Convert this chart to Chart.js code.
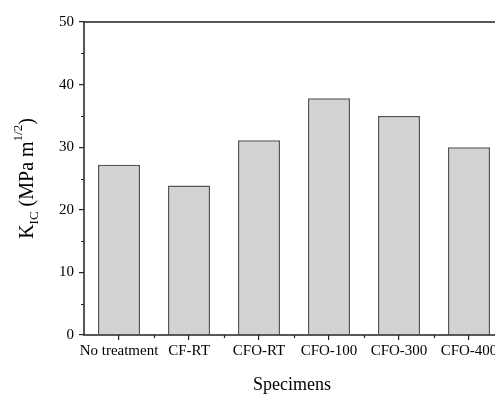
<!DOCTYPE html>
<html>
<head>
<meta charset="utf-8">
<script src="https://cdn.jsdelivr.net/npm/chart.js@4/dist/chart.umd.min.js"></script>
<style>
  html, body { margin: 0; padding: 0; background: #fff; overflow: hidden; }
  #wrap { position: relative; width: 520px; height: 395px; }
</style>
</head>
<body>
<div id="wrap"><canvas id="chart"></canvas></div>
<script>
// Fracture toughness per specimen treatment
const specimens = ['No treatment', 'CF-RT', 'CFO-RT', 'CFO-100', 'CFO-300', 'CFO-400'];
const kicValues = [27.2, 23.9, 31.1, 37.8, 35.0, 30.0];
const yMajorTicks = [0, 10, 20, 30, 40, 50];
const yMinorTicks = [5, 15, 25, 35, 45];

const SERIF = '"Liberation Serif", "Times New Roman", serif';
const AXIS_COLOR = '#222';

// Frame, minor ticks and axis titles (the y title needs sub/superscripts)
const decorations = {
  id: 'decorations',
  afterDatasetsDraw(chart) {
    const { ctx, chartArea: a, scales: { x, y } } = chart;
    ctx.save();
    ctx.strokeStyle = AXIS_COLOR;
    ctx.lineWidth = 1.5;
    ctx.strokeRect(a.left, a.top, a.right - a.left, a.bottom - a.top);

    // minor ticks
    ctx.lineWidth = 1.2;
    ctx.beginPath();
    yMinorTicks.forEach(v => {
      const py = Math.round(y.getPixelForValue(v)) + 0.5;
      ctx.moveTo(a.left - 3, py);
      ctx.lineTo(a.left, py);
    });
    for (let i = 0; i < specimens.length - 1; i++) {
      const px = Math.round((x.getPixelForValue(i) + x.getPixelForValue(i + 1)) / 2) + 0.5;
      ctx.moveTo(px, a.bottom);
      ctx.lineTo(px, a.bottom + 3);
    }
    ctx.stroke();

    // x title
    ctx.fillStyle = '#000';
    ctx.font = '18px ' + SERIF;
    ctx.textAlign = 'center';
    ctx.textBaseline = 'alphabetic';
    ctx.fillText('Specimens', (a.left + 504) / 2 - 2, 390);

    // y title: K_IC (MPa m^1/2)
    const parts = [
      { t: 'K', size: 20, dy: 0 },
      { t: 'IC', size: 13, dy: 5 },
      { t: ' (MPa m', size: 20, dy: 0 },
      { t: '1/2', size: 13, dy: -11 },
      { t: ')', size: 20, dy: 0 }
    ];
    let total = 0;
    parts.forEach(p => { ctx.font = p.size + 'px ' + SERIF; p.w = ctx.measureText(p.t).width; total += p.w; });
    ctx.translate(33, (a.top + a.bottom) / 2);
    ctx.rotate(-Math.PI / 2);
    ctx.textAlign = 'left';
    let cx = -total / 2;
    parts.forEach(p => {
      ctx.font = p.size + 'px ' + SERIF;
      ctx.fillText(p.t, cx, p.dy);
      cx += p.w;
    });
    ctx.restore();
  }
};

new Chart(document.getElementById('chart'), {
  type: 'bar',
  data: {
    labels: specimens,
    datasets: [{
      data: kicValues,
      backgroundColor: '#d3d3d3',
      borderColor: '#555',
      borderWidth: 1.5,
      borderSkipped: 'bottom',
      barPercentage: 0.6,
      categoryPercentage: 1.0
    }]
  },
  options: {
    responsive: true,
    maintainAspectRatio: false,
    animation: false,
    layout: { padding: { top: 22, right: 16, left: 0, bottom: 0 } },
    plugins: { legend: { display: false }, tooltip: { enabled: false } },
    scales: {
      x: {
        offset: true,
        border: { display: false },
        grid: { offset: false, drawOnChartArea: false, drawTicks: true, tickLength: 5, color: AXIS_COLOR, lineWidth: 1.2 },
        ticks: { color: '#000', font: { family: SERIF, size: 15 }, padding: 2, maxRotation: 0, autoSkip: false },
        afterFit(s) { s.height = 60; }
      },
      y: {
        min: 0,
        max: 50,
        border: { display: false },
        afterBuildTicks(s) { s.ticks = yMajorTicks.map(v => ({ value: v })); },
        grid: { drawOnChartArea: false, drawTicks: true, tickLength: 5, color: AXIS_COLOR, lineWidth: 1.2 },
        ticks: { color: '#000', font: { family: SERIF, size: 15 }, padding: 5 },
        afterFit(s) { s.width = 84; }
      }
    }
  },
  plugins: [decorations]
});
</script>
</body>
</html>
